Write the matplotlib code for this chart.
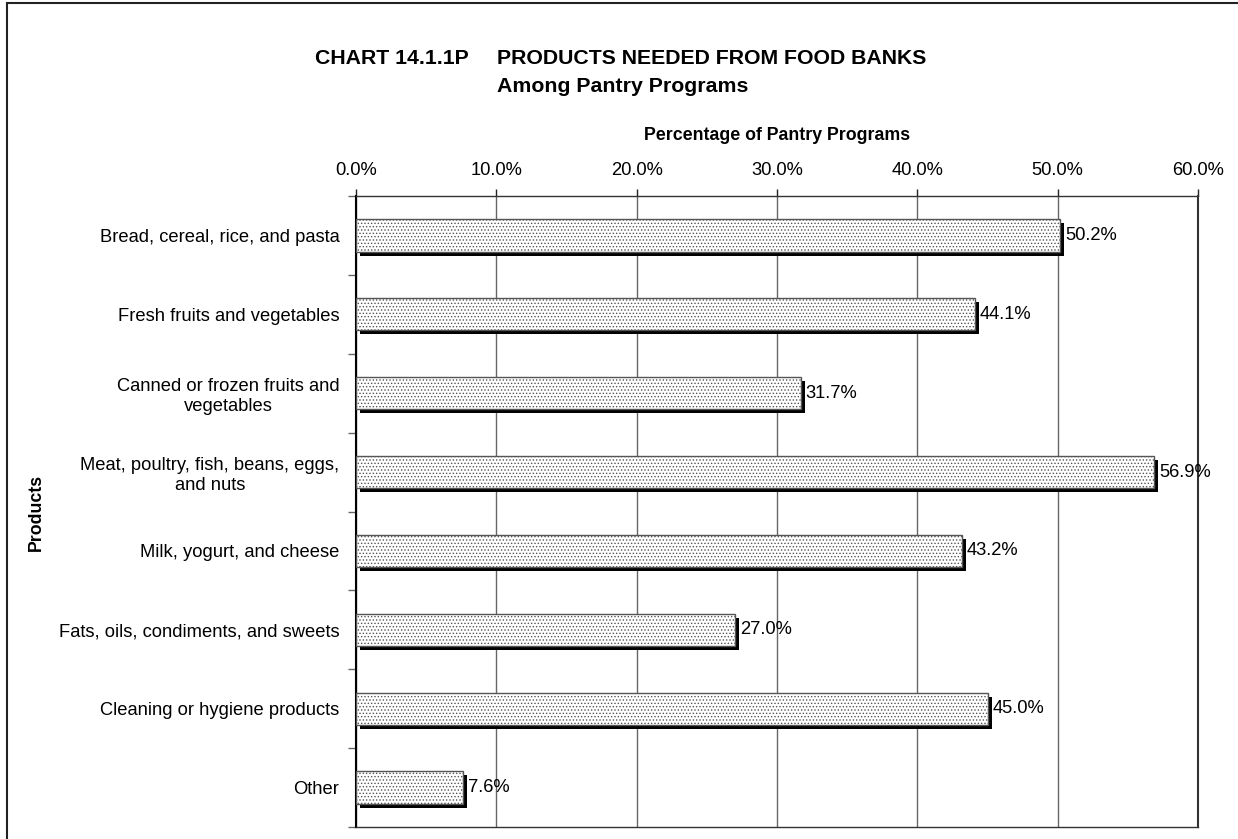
import matplotlib.pyplot as plt
from matplotlib.patches import Rectangle
from matplotlib.ticker import FixedLocator, PercentFormatter
from matplotlib.transforms import ScaledTranslation
import numpy as np

plt.rcParams['font.family'] = ['Liberation Sans', 'DejaVu Sans']
plt.rcParams['hatch.linewidth'] = 0.6
plt.rcParams['hatch.color'] = '#8c8c8c'

# data
categories = [
    'Bread, cereal, rice, and pasta',
    'Fresh fruits and vegetables',
    'Canned or frozen fruits and\nvegetables',
    'Meat, poultry, fish, beans, eggs,\nand nuts',
    'Milk, yogurt, and cheese',
    'Fats, oils, condiments, and sweets',
    'Cleaning or hygiene products',
    'Other',
]
values = [50.2, 44.1, 31.7, 56.9, 43.2, 27.0, 45.0, 7.6]
x_ticks = [0, 10, 20, 30, 40, 50, 60]

W, H = 1238, 839
FS = 13.2
fig = plt.figure(figsize=(W / 100, H / 100), dpi=100)
ax = fig.add_axes([356 / W, 1 - 827 / H, (1198 - 356) / W, (827 - 196) / H])

# outer frame (only left and top edges fall inside the picture)
fig.patches.append(Rectangle((7 / W, -0.2), 1.2, 1.2 - 3 / H, transform=fig.transFigure,
                             fill=False, ec='#222222', lw=1.5, zorder=0))

y = np.arange(len(categories))

# drop shadow: same bars shifted right/down by a few pixels
shift = ax.transData + ScaledTranslation(4 / 100, -4 / 100, fig.dpi_scale_trans)
shadows = ax.barh(y, values, height=0.41, color='black', linewidth=0, zorder=2)
for s in shadows:
    s.set_transform(shift)

ax.barh(y, values, height=0.41, color='white', edgecolor='#555555', linewidth=1.0,
        hatch='.....', zorder=3)

for yi, v in zip(y, values):
    ax.annotate(f'{v:.1f}%', xy=(v, yi), xytext=(3.5, 0), textcoords='offset points',
                va='center', ha='left', fontsize=FS, zorder=5)

ax.set_xlim(0, 60)
ax.set_ylim(len(categories) - 0.5, -0.5)
ax.xaxis.set_major_locator(FixedLocator(x_ticks))
ax.xaxis.set_major_formatter(PercentFormatter(decimals=1))
ax.xaxis.tick_top()
ax.xaxis.set_label_position('top')
ax.tick_params(axis='x', labelsize=FS, length=5, width=1, color='#222222', pad=7)
ax.grid(axis='x', color='#666666', lw=1, zorder=1)

ax.set_yticks(y)
ax.set_yticklabels(categories, fontsize=FS, multialignment='center')
ax.set_yticks(np.arange(len(categories) + 1) - 0.5, minor=True)
ax.tick_params(axis='y', which='major', length=0, pad=12)
ax.tick_params(axis='y', which='minor', length=6, width=1, color='#666666')

for s in ax.spines.values():
    s.set_color('#333333')
    s.set_linewidth(1)
ax.spines['left'].set_color('black')
ax.spines['left'].set_linewidth(1.5)
ax.spines['right'].set_linewidth(1.5)

ax.set_xlabel('Percentage of Pantry Programs', fontsize=12.8, fontweight='bold', labelpad=16)
fig.text(36 / W, 1 - 512 / H, 'Products', rotation=90, fontsize=12.8, fontweight='bold',
         ha='center', va='center')

fig.text(315 / W, 1 - 58 / H, 'CHART 14.1.1P', fontsize=15.3, fontweight='bold',
         ha='left', va='center')
fig.text(497 / W, 1 - 58 / H, 'PRODUCTS NEEDED FROM FOOD BANKS', fontsize=15.3,
         fontweight='bold', ha='left', va='center')
fig.text(497 / W, 1 - 87 / H, 'Among Pantry Programs', fontsize=15.3, fontweight='bold',
         ha='left', va='center')

fig.savefig('out.png', dpi=100)
